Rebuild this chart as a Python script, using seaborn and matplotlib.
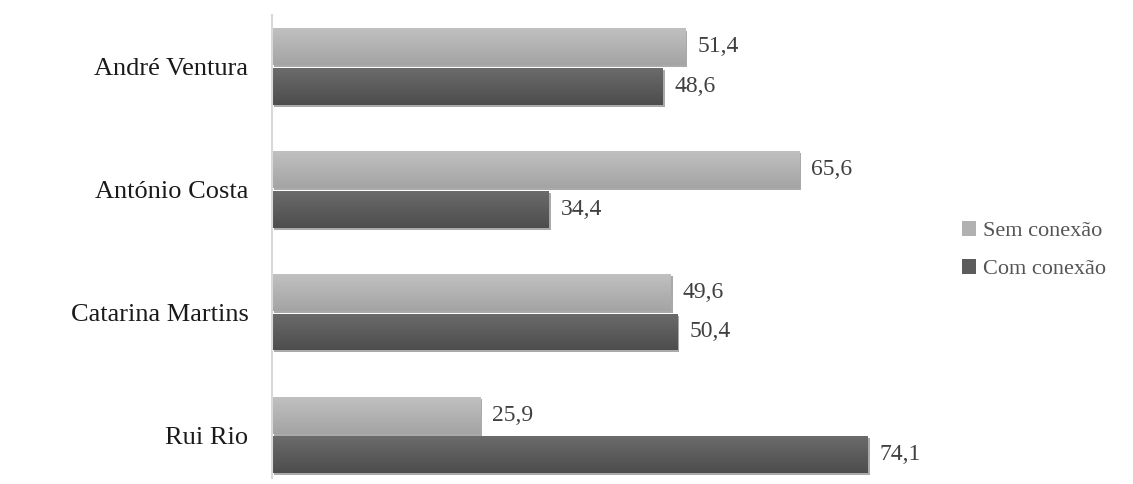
import numpy as np
import pandas as pd
import matplotlib
matplotlib.use("Agg")
import matplotlib.pyplot as plt
import matplotlib.patheffects as pe
from matplotlib.colors import LinearSegmentedColormap
from matplotlib.patches import Patch
import seaborn as sns

# Data
politicos = ["André Ventura", "António Costa", "Catarina Martins", "Rui Rio"]
sem_conexao = [51.4, 65.6, 49.6, 25.9]
com_conexao = [48.6, 34.4, 50.4, 74.1]
series = ["Sem conexão", "Com conexão"]

df = pd.DataFrame({
    "politico": politicos * 2,
    "valor": sem_conexao + com_conexao,
    "serie": [series[0]] * len(politicos) + [series[1]] * len(politicos),
})

sns.set_theme(style="white")
plt.rcParams["font.family"] = ["Liberation Serif", "DejaVu Serif"]

base_colors = {"Sem conexão": "#b1b1b1", "Com conexão": "#5c5c5c"}
grad = {
    "Sem conexão": ("#c0c0c0", "#a4a4a4"),
    "Com conexão": ("#6b6b6b", "#4d4d4d"),
}

fig = plt.figure(figsize=(11.33, 4.84), dpi=100)
ax = fig.add_axes([272 / 1133, 1 - 478 / 484, 643 / 1133, 463 / 484])

sns.barplot(data=df, y="politico", x="valor", hue="serie", order=politicos,
            hue_order=series, palette=base_colors, orient="h",
            width=0.644, gap=0.07, ax=ax, legend=False, errorbar=None)

ylim = (3.35, -0.42)
xlim = (0, 80)

# vertical gradient fill plus a soft drop shadow on every bar
shadow = [pe.SimplePatchShadow(offset=(1.5, -1.5), shadow_rgbFace="#444444", alpha=0.45),
          pe.Normal()]
grad_data = np.linspace(0, 1, 64).reshape(-1, 1)
for container, name in zip(ax.containers, series):
    cmap = LinearSegmentedColormap.from_list(name, list(grad[name]))
    for bar, val in zip(container, container.datavalues):
        bar.set_edgecolor("none")
        bar.set_path_effects(shadow)
        x0, y0 = bar.get_x(), bar.get_y()
        w, h = bar.get_width(), bar.get_height()
        im = ax.imshow(grad_data, cmap=cmap, aspect="auto", origin="upper",
                       extent=(x0, x0 + w, y0 + h, y0), zorder=bar.get_zorder() + 0.1,
                       interpolation="bilinear")
        im.set_clip_path(bar)
        ax.text(val + 1.5, y0 + h / 2, f"{val:.1f}".replace(".", ","),
                va="center", ha="left", fontsize=17, color="#404040")

ax.set_xlim(*xlim)
ax.set_ylim(*ylim)

ax.set_xlabel("")
ax.set_ylabel("")
ax.set_xticks([])
ax.tick_params(axis="y", length=0, pad=17)
for lbl in ax.get_yticklabels():
    lbl.set_fontsize(19)
    lbl.set_color("#1a1a1a")

for side in ["top", "right", "bottom"]:
    ax.spines[side].set_visible(False)
ax.spines["left"].set_color("#d9d9d9")
ax.spines["left"].set_linewidth(1.5)

# legend to the right of the bars
handles = [Patch(facecolor=base_colors[s], edgecolor="none") for s in series]
fig.legend(handles, series, loc="center left", bbox_to_anchor=(942 / 1133, 1 - 250 / 484),
           frameon=False, fontsize=16, handlelength=0.65, handleheight=0.65,
           handletextpad=0.3, labelspacing=0.8, labelcolor="#555555")

fig.savefig("out.png", dpi=100)
